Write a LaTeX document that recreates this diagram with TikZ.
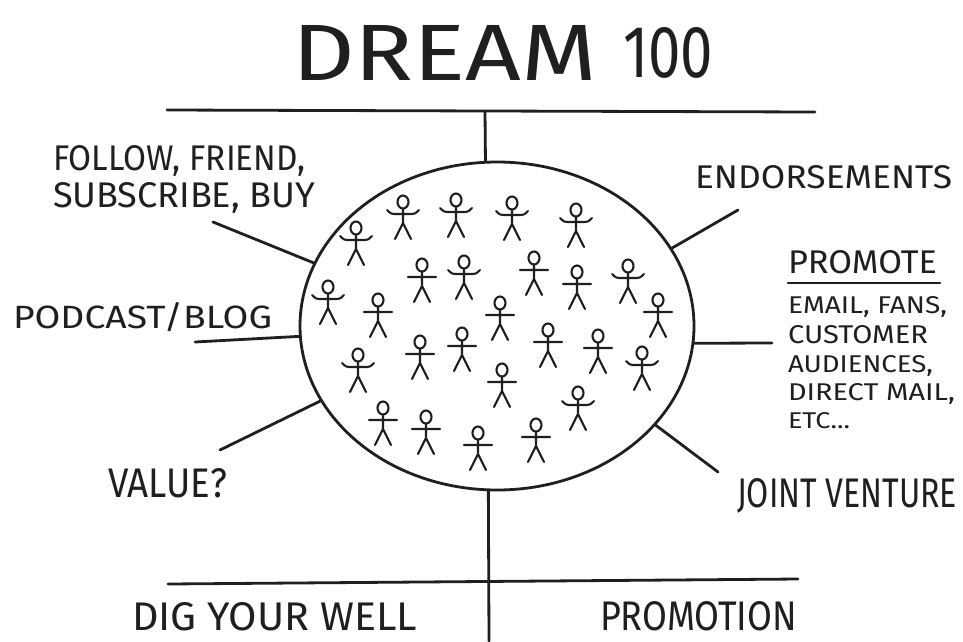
\documentclass[tikz,border=0pt]{standalone}
\usepackage{fontspec}
\setmainfont{Fira Sans}
\usetikzlibrary{shapes.geometric}
% squeeze a line of lettering into a given width and cap height (in pt)
\newcommand\fitto[3]{\resizebox{#1pt}{#2pt}{#3}}

\begin{document}
\begin{tikzpicture}[x=1pt,y=-1pt,
  ink/.style={line width=2.8pt, line cap=round, black!88},
  fig/.style={line width=2.1pt, line cap=round, line join=round, black!88},
  lbl/.style={anchor=base west, inner sep=0pt, outer sep=0pt, text=black!88},
  crowdring/.style={ellipse, draw=black!88, line width=2.8pt,
    minimum width=394pt, minimum height=328pt, inner sep=0pt},
  % stick figure with straight arms
  person/.pic={
    \draw[fig] (0,0) ellipse [x radius=5.5, y radius=6.5]
      (0,6.5) -- (0,21)
      (-8,37) -- (0,21) -- (8,37)
      (-14,12) -- (14,12);
  },
  % stick figure with raised hands
  waver/.pic={
    \draw[fig] (0,0) ellipse [x radius=5.5, y radius=6.5]
      (0,6.5) -- (0,21)
      (-8,37) -- (0,21) -- (8,37)
      (-16,8) .. controls (-12,12) .. (-5,12) -- (5,12) .. controls (12,12) .. (16,8);
  }
]
\useasboundingbox[fill=white] (0,0) rectangle (963,641);

% title
\node[lbl] (title) at (292,80) {\fitto{305}{55}{DREAM}};
\node[lbl] (hundred) at (623,77) {\fitto{90}{50}{100}};

% the crowd
\node[crowdring] (crowd) at (497,326) {};

% the T-frame above and below the crowd
\coordinate (topL) at (167,110);
\coordinate (topR) at (815,112);
\coordinate (topJ) at (485,111);
\draw[ink] (topL) -- (topR);
\draw[ink] (topJ) -- (crowd.94);

\coordinate (botL) at (168,584);
\coordinate (botR) at (798,579);
\coordinate (botE) at (489,641);
\draw[ink] (botL) -- (botR);
\draw[ink] (crowd.267) -- (botE);

% spokes
\coordinate (followEnd) at (213,222);
\coordinate (podcastEnd) at (195,342);
\coordinate (valueEnd) at (220,450);
\coordinate (endorseEnd) at (738,210);
\coordinate (promoteEnd) at (772,343);
\coordinate (jointEnd) at (718,472);
\draw[ink] (crowd.161) -- (followEnd);
\draw[ink] (crowd.183) -- (podcastEnd);
\draw[ink] (crowd.203) -- (valueEnd);
\draw[ink] (crowd.24) -- (endorseEnd);
\draw[ink] (crowd.355) -- (promoteEnd);
\draw[ink] (crowd.328) -- (jointEnd);

% left labels
\node[lbl] (follow) at (53,170) {\fitto{252}{25}{FOLLOW, FRIEND,}};
\node[lbl] (subscribe) at (53,207) {\fitto{262}{25}{SUBSCRIBE, BUY}};
\node[lbl] (podcast) at (13,328) {\fitto{259}{26}{PODCAST/BLOG}};
\node[lbl] (value) at (108,497) {\fitto{119}{29}{VALUE?}};

% right labels
\node[lbl] (endorse) at (695,188) {\fitto{257}{23}{ENDORSEMENTS}};
\node[lbl] (promote) at (788,273) {\fitto{149}{23}{PROMOTE}};
\coordinate (ulL) at (788,283);
\coordinate (ulR) at (940,283);
\draw[ink, line width=2.4pt] (ulL) -- (ulR);
\node[lbl] (email) at (788,313) {\fitto{159}{17}{EMAIL, FANS,}};
\node[lbl] (customer) at (788,343) {\fitto{140}{18}{CUSTOMER}};
\node[lbl] (audiences) at (788,372) {\fitto{145}{17}{AUDIENCES,}};
\node[lbl] (direct) at (788,400) {\fitto{167}{17}{DIRECT MAIL,}};
\node[lbl] (etc) at (788,428) {\fitto{62}{16}{ETC...}};
\node[lbl] (joint) at (737,507) {\fitto{220}{29}{JOINT VENTURE}};

% bottom labels
\node[lbl] (dig) at (132,630) {\fitto{285}{28}{DIG YOUR WELL}};
\node[lbl] (promotion) at (600,630) {\fitto{197}{29}{PROMOTION}};

% people inside the crowd
\pic at (403,202) {waver};
\pic at (456,200) {waver};
\pic at (512,203) {waver};
\pic at (576,210) {waver};
\pic at (356,228) {waver};
\pic at (422,265) {person};
\pic at (464,262) {waver};
\pic at (534,258) {person};
\pic at (577,272) {person};
\pic at (628,266) {waver};
\pic at (328,287) {waver};
\pic at (378,300) {person};
\pic at (500,303) {person};
\pic at (658,300) {person};
\pic at (420,342) {person};
\pic at (462,334) {person};
\pic at (548,330) {person};
\pic at (598,336) {person};
\pic at (642,353) {waver};
\pic at (358,355) {waver};
\pic at (502,370) {person};
\pic at (578,393) {waver};
\pic at (383,408) {person};
\pic at (426,417) {person};
\pic at (478,433) {person};
\pic at (536,425) {person};
\end{tikzpicture}
\end{document}
